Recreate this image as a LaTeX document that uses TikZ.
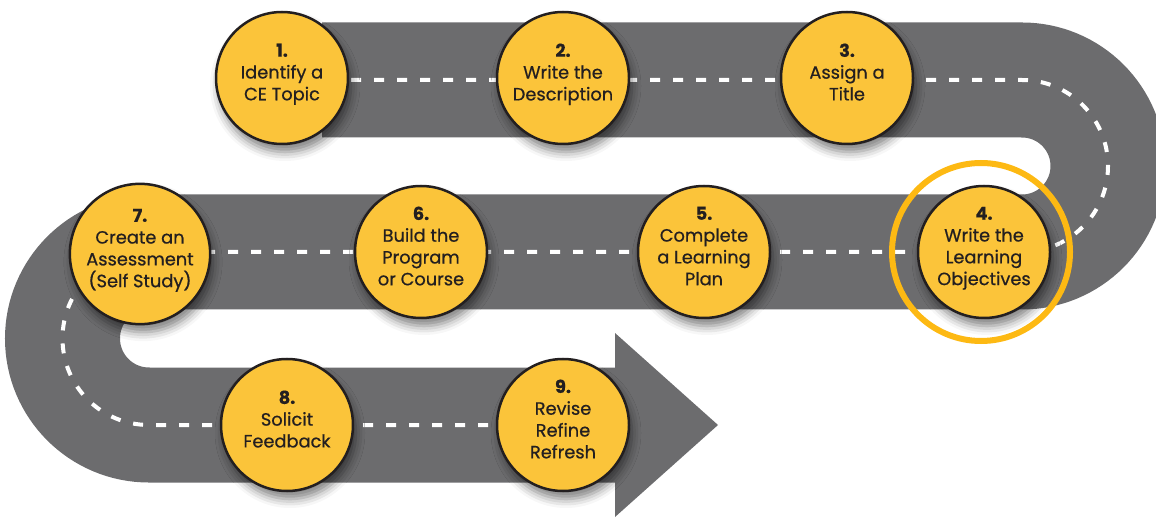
\documentclass[tikz,border=0pt]{standalone}
\usepackage{fontspec}
\setmainfont{Poppins}[FakeBold=0.6]
\usetikzlibrary{shadows.blur}
\definecolor{roadgray}{RGB}{108,108,110}
\definecolor{disc}{RGB}{251,196,58}
\definecolor{ink}{RGB}{35,31,32}
\definecolor{ringgold}{RGB}{253,185,19}
\begin{document}
\begin{tikzpicture}[x=1pt,y=-1pt,
  stepdisc/.style={circle, draw=ink, line width=2.5pt, fill=disc,
    minimum size=132pt, inner sep=0pt, align=center, text=ink,
    font=\fontsize{17.8}{21.8}\selectfont, text depth=12pt,
    blur shadow={shadow xshift=3pt, shadow yshift=-8pt, shadow blur radius=9pt, shadow opacity=50}},
  roadband/.style={draw=roadgray, line width=115pt},
  lanemark/.style={draw=white, line width=4pt, dash pattern=on 10pt off 13pt},
  highlight/.style={circle, draw=ringgold, line width=6pt, minimum size=178pt, inner sep=0pt}
  ]
\useasboundingbox (0,0) rectangle (1156,518);
% road
\path[roadband] (322,80) -- (1022,80) arc[start angle=-90, end angle=90, radius=86]
  -- (149,252) arc[start angle=-90, end angle=-270, radius=86.5] -- (616,425);
\fill[roadgray] (615,333) -- (718,425) -- (615,517) -- cycle;
% lane markings
\path[lanemark] (282,80) -- (1022,80) arc[start angle=-90, end angle=90, radius=86]
  -- (149,252) arc[start angle=-90, end angle=-270, radius=86.5] -- (563,425);
% steps
\node[stepdisc] (c1) at (282,78) {\textbf{1.}\\Identify a\\CE Topic};
\node[stepdisc] (c2) at (563,78) {\textbf{2.}\\Write the\\Description};
\node[stepdisc] (c3) at (847,78) {\textbf{3.}\\Assign a\\Title};
\node[stepdisc] (c4) at (984,252) {\textbf{4.}\\Write the\\Learning\\Objectives};
\node[stepdisc] (c5) at (704,252) {\textbf{5.}\\Complete\\a Learning\\Plan};
\node[stepdisc] (c6) at (421,252) {\textbf{6.}\\Build the\\Program\\or Course};
\node[stepdisc] (c7) at (140,254) {\textbf{7.}\\Create an\\Assessment\\(Self Study)};
\node[stepdisc] (c8) at (287,425) {\textbf{8.}\\Solicit\\Feedback};
\node[stepdisc] (c9) at (563,425) {\textbf{9.}\\Revise\\Refine\\Refresh};
% highlight ring
\node[highlight] (hl) at (981,252) {};
\end{tikzpicture}
\end{document}
